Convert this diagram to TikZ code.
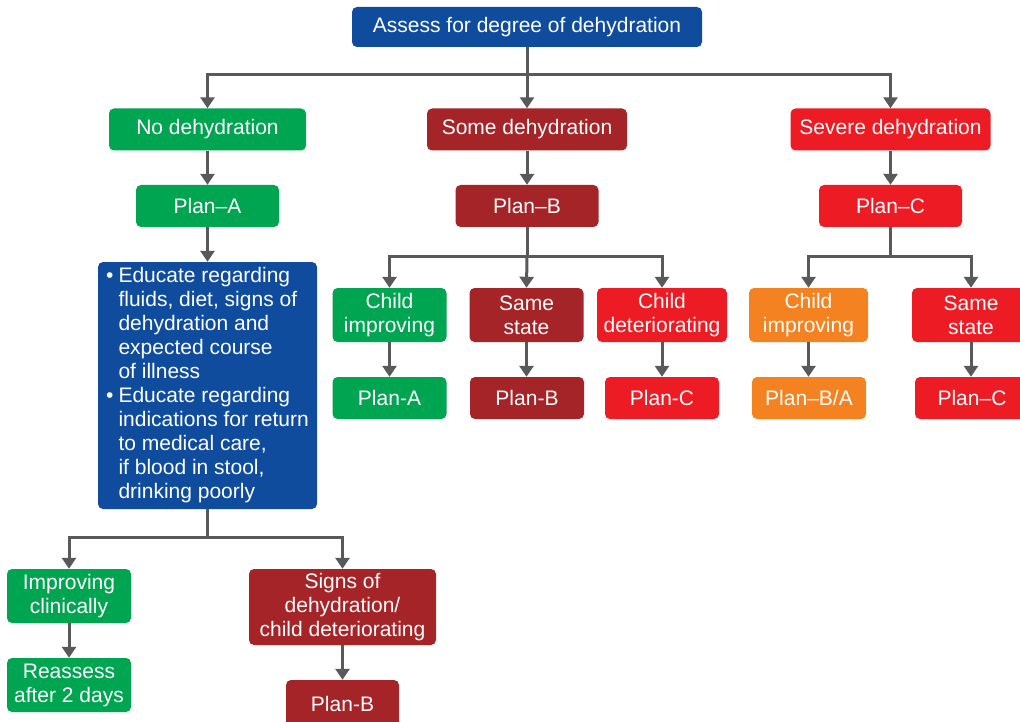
\documentclass[tikz,border=0pt]{standalone}
\usepackage{fontspec}
\setmainfont{Liberation Sans}
\usetikzlibrary{arrows.meta}
\definecolor{cblue}{HTML}{0F4C9E}
\definecolor{cgreen}{HTML}{00A551}
\definecolor{cdred}{HTML}{A52428}
\definecolor{cred}{HTML}{ED1C24}
\definecolor{corange}{HTML}{F58221}
\definecolor{cline}{HTML}{58595B}
\tikzset{
  box/.style={rounded corners=5pt, text=white, font=\fontsize{21}{24}\selectfont, align=center, inner sep=0pt},
  link/.style={draw=cline, line width=3pt},
  arr/.style={link, -{Triangle[width=14pt,length=11pt]}},
}
\begin{document}
\begin{tikzpicture}[x=1pt,y=-1pt]
\useasboundingbox (0,0) rectangle (1020,722);
\clip (0,0) rectangle (1020,722);
% level 0
\node[box, fill=cblue, minimum width=350pt, minimum height=40pt] (assess) at (527,27) {Assess for degree of dehydration};
% level 1
\node[box, fill=cgreen, minimum width=197pt, minimum height=42pt] (no) at (207.5,129.5) {No dehydration};
\node[box, fill=cdred, minimum width=200pt, minimum height=42pt] (some) at (527,129.5) {Some dehydration};
\node[box, fill=cred, minimum width=200pt, minimum height=42pt] (severe) at (890.5,129.5) {Severe dehydration};
% level 2
\node[box, fill=cgreen, minimum width=143pt, minimum height=42pt] (planA) at (207.5,206) {Plan–A};
\node[box, fill=cdred, minimum width=143pt, minimum height=42pt] (planB) at (527,206) {Plan–B};
\node[box, fill=cred, minimum width=143pt, minimum height=42pt] (planC) at (890.5,206) {Plan–C};
% blue text box
\node[box, fill=cblue, minimum width=219pt, minimum height=247pt, align=left] (edu) at (207.5,385.5) {%
\begin{tabular}{@{}l@{}l@{}}
\textbullet\hspace{5pt} & Educate regarding\\
 & fluids, diet, signs of\\
 & dehydration and\\
 & expected course\\
 & of illness\\
\textbullet\hspace{5pt} & Educate regarding\\
 & indications for return\\
 & to medical care,\\
 & if blood in stool,\\
 & drinking poorly
\end{tabular}};
% Plan-B branch
\node[box, fill=cgreen, minimum width=114pt, minimum height=54pt] (bimp) at (389.5,315) {Child\\improving};
\node[box, fill=cdred, minimum width=114pt, minimum height=54pt] (bsame) at (526.5,315) {Same\\state};
\node[box, fill=cred, minimum width=130pt, minimum height=54pt] (bdet) at (662,315) {Child\\deteriorating};
\node[box, fill=cgreen, minimum width=114pt, minimum height=42pt] (bpa) at (389.5,398) {Plan-A};
\node[box, fill=cdred, minimum width=114pt, minimum height=42pt] (bpb) at (527,398) {Plan-B};
\node[box, fill=cred, minimum width=114pt, minimum height=42pt] (bpc) at (662,398) {Plan-C};
% Plan-C branch
\node[box, fill=corange, minimum width=119pt, minimum height=54pt] (cimp) at (808.5,315) {Child\\improving};
\node[box, fill=cred, minimum width=118pt, minimum height=54pt] (csame) at (971,315) {Same\\state};
\node[box, fill=corange, minimum width=114pt, minimum height=42pt] (cpba) at (809,398) {Plan–B/A};
\node[box, fill=cred, minimum width=114pt, minimum height=42pt] (cpc) at (972,398) {Plan–C};
% bottom branch
\node[box, fill=cgreen, minimum width=124pt, minimum height=54pt] (impcl) at (69,596) {Improving\\clinically};
\node[box, fill=cgreen, minimum width=124pt, minimum height=54pt] (reass) at (69,685) {Reassess\\after 2 days};
\node[box, fill=cdred, minimum width=187pt, minimum height=76pt] (signs) at (342.5,607) {Signs of\\dehydration/\\child deteriorating};
\node[box, fill=cdred, minimum width=113pt, minimum height=48pt] (bplanB) at (342.5,704) {Plan-B};
% junction coordinates
\coordinate (j0) at (527,75);
\coordinate (jB) at (527,256);
\coordinate (jC) at (890.5,256);
\coordinate (jE) at (207.5,537);
% connectors
\draw[link] (assess.south) -- (j0);
\draw[arr] (j0) -| (no.north);
\draw[arr] (j0) -- (some.north);
\draw[arr] (j0) -| (severe.north);
\draw[arr] (no) -- (planA);
\draw[arr] (some) -- (planB);
\draw[arr] (severe) -- (planC);
\draw[arr] (planA) -- (edu);
\draw[link] (planB.south) -- (jB);
\draw[arr] (jB) -| (bimp.north);
\draw[arr] (jB) -- (bsame.north);
\draw[arr] (jB) -| (bdet.north);
\draw[arr] (bimp) -- (bpa);
\draw[arr] (bsame) -- (bsame.south |- bpb.north);
\draw[arr] (bdet) -- (bpc);
\draw[link] (planC.south) -- (jC);
\draw[arr] (jC) -| (cimp.north);
\draw[arr] (jC) -| (csame.north);
\draw[arr] (cimp) -- (cimp.south |- cpba.north);
\draw[arr] (csame) -- (csame.south |- cpc.north);
\draw[link] (edu.south) -- (jE);
\draw[arr] (jE) -| (impcl.north);
\draw[arr] (jE) -| (signs.north);
\draw[arr] (impcl) -- (reass);
\draw[arr] (signs) -- (bplanB);
\end{tikzpicture}
\end{document}
